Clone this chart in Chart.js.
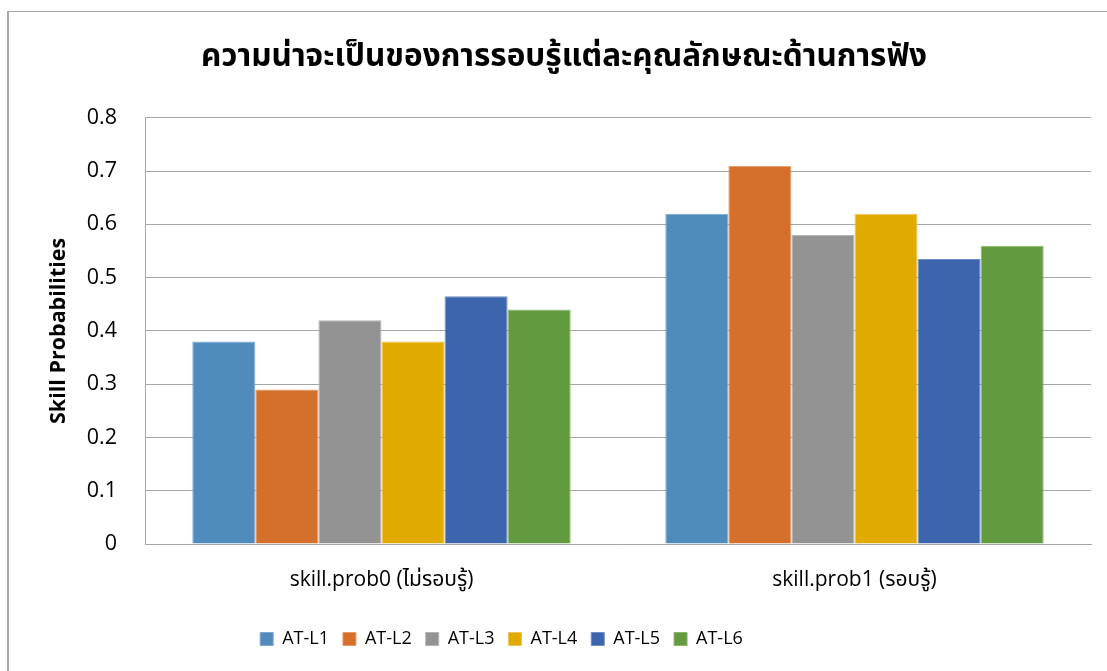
<!DOCTYPE html>
<html>
<head>
<meta charset="utf-8">
<script src="https://cdn.jsdelivr.net/npm/chart.js@4/dist/chart.umd.min.js"></script>
<style>
  html, body { margin: 0; padding: 0; background: #fff; overflow: hidden; }
  #frame {
    position: absolute; left: 7px; top: 11px; width: 1300px; height: 900px;
    border-left: 2px solid #a9a9a9; border-top: 1px solid #a9a9a9;
  }
  #wrap { position: absolute; left: 0; top: 0; width: 1107px; height: 671px; }
</style>
</head>
<body>
<div id="frame"></div>
<div id="wrap"><canvas id="skillChart"></canvas></div>
<script>
const categories = ['skill.prob0 (ไม่รอบรู้)', 'skill.prob1 (รอบรู้)'];
const seriesNames = ['AT-L1', 'AT-L2', 'AT-L3', 'AT-L4', 'AT-L5', 'AT-L6'];

// one array per series: [prob0, prob1]
const atL1 = [0.38, 0.62];
const atL2 = [0.29, 0.71];
const atL3 = [0.42, 0.58];
const atL4 = [0.38, 0.62];
const atL5 = [0.465, 0.535];
const atL6 = [0.44, 0.56];

const yTicks = [0, 0.1, 0.2, 0.3, 0.4, 0.5, 0.6, 0.7, 0.8];

const seriesValues = [atL1, atL2, atL3, atL4, atL5, atL6];
const fillColors   = ['#508bbe', '#d4702b', '#939393', '#e1aa00', '#3d65ad', '#639a3f'];
const edgeColors   = ['#7aa7d0', '#e59a66', '#b5b5b5', '#eec55a', '#6e8dc5', '#8ab76c'];

const thaiFont = '"Noto Sans Thai", "Noto Sans", sans-serif';
const latinFont = '"Open Sans", "Noto Sans Thai", sans-serif';
const gridGray = '#a6a6a6';

// nudge the legend left like the original (its legend isn't centred on the frame)
const legendShift = {
  id: 'legendShift',
  afterLayout(chart) {
    if (chart.legend) chart.legend.right -= 125;
  },
};

const ctx = document.getElementById('skillChart').getContext('2d');
new Chart(ctx, {
  type: 'bar',
  data: {
    labels: categories,
    datasets: seriesNames.map((name, i) => ({
      label: name,
      data: seriesValues[i],
      backgroundColor: fillColors[i],
      borderColor: edgeColors[i],
      borderWidth: 1,
      categoryPercentage: 0.8,
      barPercentage: 1.0,
    })),
  },
  options: {
    responsive: true,
    maintainAspectRatio: false,
    animation: false,
    layout: { padding: { left: 37, right: 16, top: 0, bottom: 13 } },
    plugins: {
      title: {
        display: true,
        text: 'ความน่าจะเป็นของการรอบรู้แต่ละคุณลักษณะด้านการฟัง',
        color: '#000',
        font: { family: thaiFont, size: 31.5, weight: 'bold' },
        padding: { top: 41, bottom: 39 },
      },
      legend: {
        display: true,
        position: 'bottom',
        labels: {
          color: '#000',
          font: { family: latinFont, size: 18 },
          boxWidth: 13,
          boxHeight: 13,
          padding: 14,
          useBorderRadius: false,
        },
      },
      tooltip: { enabled: false },
    },
    scales: {
      x: {
        grid: { display: false, drawTicks: false },
        border: { display: true, color: gridGray, width: 1 },
        ticks: { color: '#000', font: { family: latinFont, size: 21 }, padding: 23 },
        afterFit(scale) { scale.height = 72; },
      },
      y: {
        min: 0,
        max: 0.8,
        afterBuildTicks(scale) { scale.ticks = yTicks.map(v => ({ value: v })); },
        grid: { color: gridGray, lineWidth: 1, drawTicks: false },
        border: { display: true, color: gridGray, width: 1 },
        ticks: {
          color: '#000',
          font: { family: latinFont, size: 21.5 },
          padding: 28,
          callback(value) { return String(Math.round(value * 10) / 10); },
        },
        title: {
          display: true,
          text: 'Skill Probabilities',
          color: '#000',
          font: { family: latinFont, size: 21.5, weight: 'bold' },
          padding: { top: 9, bottom: 4 },
        },
        afterFit(scale) { scale.width = 108; },
      },
    },
  },
  plugins: [legendShift],
});
</script>
</body>
</html>
